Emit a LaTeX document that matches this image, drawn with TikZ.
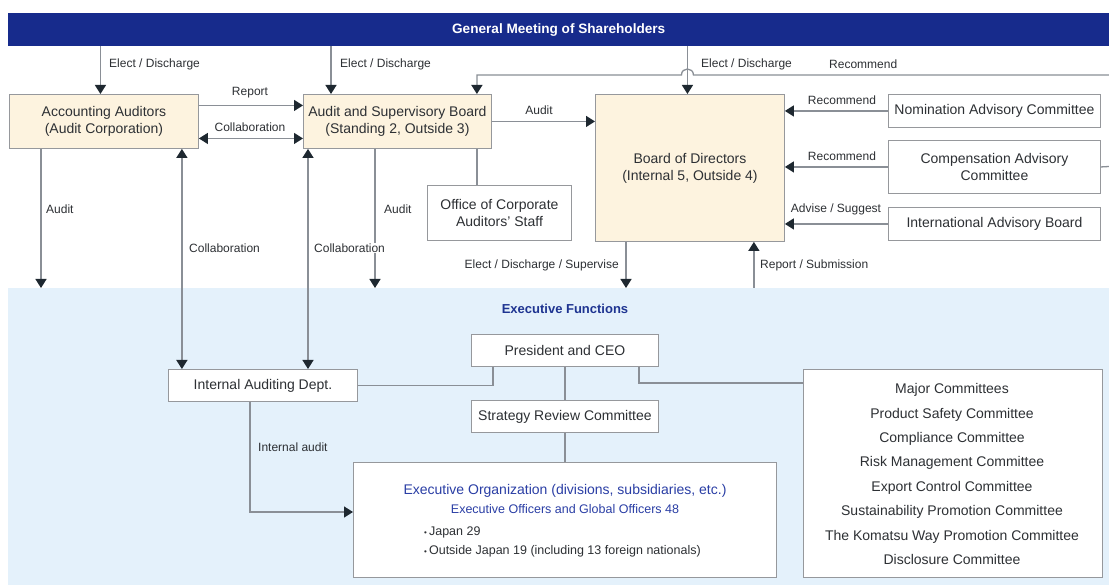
\documentclass[tikz,border=0pt]{standalone}
\usepackage{fontspec}
\setmainfont{Liberation Sans}
\usetikzlibrary{arrows.meta,calc}
\definecolor{navyc}{RGB}{23,43,140}
\definecolor{creamc}{RGB}{253,243,223}
\definecolor{panelc}{RGB}{228,241,251}
\definecolor{boxc}{RGB}{150,152,156}
\definecolor{linec}{RGB}{138,143,150}
\definecolor{tipc}{RGB}{30,40,48}
\definecolor{txtc}{RGB}{45,48,52}
\definecolor{bluet}{RGB}{42,62,165}
\definecolor{bluet2}{RGB}{30,52,145}
\tikzset{
  box/.style={draw=boxc, line width=0.9pt, fill=white, text=txtc, align=center,
    font=\fontsize{14}{17}\selectfont, inner sep=0pt, anchor=north west},
  cream/.style={box, fill=creamc},
  lbl/.style={font=\fontsize{12}{14}\selectfont, text=txtc, inner sep=1pt},
  conn/.style={draw=linec, line width=1.3pt},
  arr/.style={conn, -{Triangle[width=11pt,length=9pt,color=tipc]}},
  darr/.style={conn, {Triangle[width=11pt,length=9pt,color=tipc]}-{Triangle[width=11pt,length=9pt,color=tipc]}}
}
\begin{document}
\begin{tikzpicture}[x=1pt,y=-1pt]
\useasboundingbox[fill=white] (0,0) rectangle (1109,585);
% executive panel
\node[fill=panelc, minimum width=1101, minimum height=297, anchor=north west, inner sep=0pt] (panel) at (8,288) {};
\node[font=\bfseries\fontsize{13}{15}\selectfont, text=bluet2] (ef) at (565,309) {Executive Functions};
% banner
\node[fill=navyc, minimum width=1101, minimum height=33, anchor=north west, inner sep=0pt,
  text=white, font=\bfseries\fontsize{13.6}{15}\selectfont] (gm) at (8,13) {General Meeting of Shareholders};
% top boxes
\node[cream, minimum width=189, minimum height=54] (aa) at (9,94) {Accounting Auditors\\(Audit Corporation)};
\node[cream, minimum width=188, minimum height=54] (asb) at (303,94) {Audit and Supervisory Board\\(Standing 2, Outside 3)};
\node[cream, minimum width=189, minimum height=147] (bod) at (595,94) {Board of Directors\\(Internal 5, Outside 4)};
\node[box, minimum width=212, minimum height=33] (nom) at (888,94) {Nomination Advisory Committee};
\node[box, minimum width=212, minimum height=53] (comp) at (888,140) {Compensation Advisory\\Committee};
\node[box, minimum width=212, minimum height=33] (iab) at (888,207) {International Advisory Board};
\node[box, minimum width=144, minimum height=55] (ocs) at (427,185) {Office of Corporate\\Auditors' Staff};
% executive boxes
\node[box, minimum width=187, minimum height=32] (pres) at (471,334) {President and CEO};
\node[box, minimum width=187, minimum height=32] (src) at (471,400) {Strategy Review Committee};
\node[box, minimum width=189, minimum height=32] (iad) at (168,369) {Internal Auditing Dept.};
\node[box, minimum width=423, minimum height=115] (eo) at (353,462) {};
\node[box, minimum width=299, minimum height=208] (mc) at (803,369) {};
\node[text=txtc, align=center, font=\fontsize{14}{24.4}\selectfont, inner sep=0pt] (mct) at (952,474)
  {Major Committees\\Product Safety Committee\\Compliance Committee\\Risk Management Committee\\Export Control Committee\\Sustainability Promotion Committee\\The Komatsu Way Promotion Committee\\Disclosure Committee};
\node[text=bluet, font=\fontsize{14}{16}\selectfont, inner sep=0pt] (eot1) at (565,491) {Executive Organization (divisions, subsidiaries, etc.)};
\node[text=bluet, font=\fontsize{12.5}{15}\selectfont, inner sep=0pt] (eot2) at (565,509) {Executive Officers and Global Officers 48};
\node[text=txtc, font=\fontsize{12.5}{15}\selectfont, inner sep=0pt, anchor=west] (eot3) at (424,532) {{\fontsize{8}{10}\selectfont\textbullet}\,Japan 29};
\node[text=txtc, font=\fontsize{12.5}{15}\selectfont, inner sep=0pt, anchor=west] (eot4) at (424,551) {{\fontsize{8}{10}\selectfont\textbullet}\,Outside Japan 19 (including 13 foreign nationals)};
% tap coordinates
\coordinate (t1) at ($(aa.north)+(-3.5,0)$);
\coordinate (t2) at ($(asb.north west)+(28,0)$);
\coordinate (t3) at ($(bod.north)+(-2.5,0)$);
\coordinate (t4) at ($(asb.north east)+(-15,0)$);
\coordinate (rt1) at (1109,75);
\coordinate (rt2) at (1109,166.5);
\coordinate (b1) at ($(aa.south west)+(32,0)$);
\coordinate (b2) at ($(aa.south east)+(-17,0)$);
\coordinate (b3) at ($(asb.south west)+(5,0)$);
\coordinate (b4) at ($(asb.south west)+(72,0)$);
\coordinate (b5) at ($(asb.south east)+(-15,0)$);
\coordinate (b6) at ($(bod.south west)+(31,0)$);
\coordinate (b7) at ($(bod.south east)+(-31,0)$);
\coordinate (p1) at ($(pres.south west)+(22,0)$);
\coordinate (p2) at ($(pres.south east)+(-20,0)$);
\coordinate (m1) at ($(mc.north west)+(0,14)$);
\coordinate (i1) at ($(iad.south west)+(82,0)$);
\coordinate (e1) at ($(eo.north west)+(0,50)$);
% connectors from the meeting
\draw[arr] (t1 |- gm.south) -- (t1);
\draw[arr] (t2 |- gm.south) -- (t2);
\draw[arr] (t3 |- gm.south) -- (t3);
\draw[arr] (rt1) -- ($(t3 |- rt1)+(6,0)$) .. controls +(0,-8) and +(0,-8) .. ($(t3 |- rt1)+(-6,0)$) -- (t4 |- rt1) -- (t4);
\node[lbl, anchor=west] at (108,64) {Elect / Discharge};
\node[lbl, anchor=west] at (339,64) {Elect / Discharge};
\node[lbl, anchor=west] at (700,64) {Elect / Discharge};
\node[lbl, anchor=west] at (828,64) {Recommend};
% between auditors
\draw[arr] ($(aa.east)+(0,-16)$) -- ($(asb.west)+(0,-16)$);
\draw[darr] ($(aa.east)+(0,17)$) -- ($(asb.west)+(0,17)$);
\node[lbl] at (250,93) {Report};
\node[lbl] at (250,127) {Collaboration};
\draw[arr] (asb.east) -- (asb.east -| bod.west);
\node[lbl] at (539,110) {Audit};
% advisory committees
\draw[arr] (nom.west) -- (nom.west -| bod.east);
\draw[arr] (comp.west) -- (comp.west -| bod.east);
\draw[arr] (iab.west) -- (iab.west -| bod.east);
\draw[conn] (comp.east) -- (rt2);
\node[lbl] at (842,100) {Recommend};
\node[lbl] at (842,156) {Recommend};
\node[lbl] at (836,209) {Advise / Suggest};
% office
\draw[conn] (b5) -- (b5 |- ocs.north);
% downward connections
\draw[arr] (b1) -- (b1 |- panel.north);
\node[lbl, anchor=west] at (45,209) {Audit};
\draw[arr] (b4) -- (b4 |- panel.north);
\node[lbl, anchor=west] at (383,209) {Audit};
\draw[darr] (b2) -- (b2 |- iad.north);
\draw[darr] (b3) -- (b3 |- iad.north);
\node[lbl, anchor=west] at (188,248) {Collaboration};
\node[lbl, anchor=west, fill=white] at (313,248) {Collaboration};
\draw[arr] (b6) -- (b6 |- panel.north);
\draw[arr] (b7 |- panel.north) -- (b7);
\node[lbl, anchor=east] at (620,265) {Elect / Discharge / Supervise};
\node[lbl, anchor=west] at (759,265) {Report / Submission};
% executive connections
\draw[conn] (iad.east) -| (p1);
\draw[conn] (pres.south) -- (src.north);
\draw[conn] (src.south) -- (eo.north);
\draw[conn] (p2) |- (m1);
\draw[arr] (i1) |- (e1);
\node[lbl, anchor=west] at (257,447) {Internal audit};
\end{tikzpicture}
\end{document}
